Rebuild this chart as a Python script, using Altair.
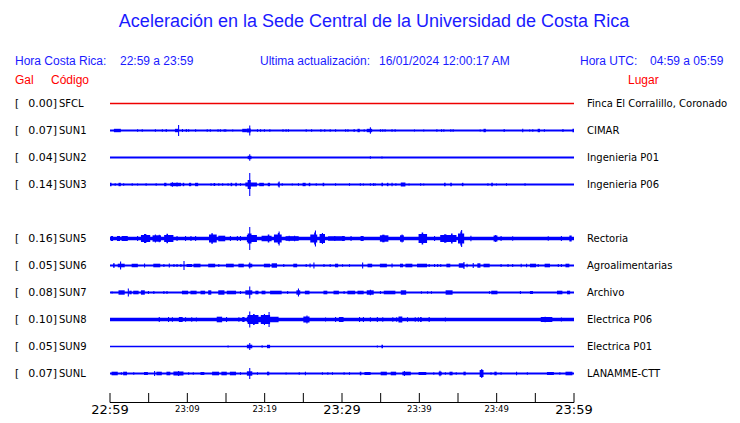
import altair as alt
import pandas as pd

# ---------------- data ----------------
CODES = ["SFCL", "SUN1", "SUN2", "SUN3", "SUN5", "SUN6", "SUN7", "SUN8", "SUN9", "SUNL"]
ROWS = [0, 1, 2, 3, 5, 6, 7, 8, 9, 10]
PEAK_GAL = ["0.00", "0.07", "0.04", "0.14", "0.16", "0.05", "0.08", "0.10", "0.05", "0.07"]
PLACES = ["Finca El Corralillo, Coronado", "CIMAR", "Ingenieria P01", "Ingenieria P06",
          "Rectoria", "Agroalimentarias", "Archivo", "Electrica P06", "Electrica P01",
          "LANAMME-CTT"]

# bursts: [start minute, end minute, half amplitude (px at picture scale)]
EV_SFCL = []
EV_SUN1 = [[0.5,1.4,1.7],[3.5,3.5,1.3],[4.1,4.1,1.3],[5.8,5.8,1.3],[6.7,6.7,1.3],[7.2,7.2,1.5],
           [8.4,8.8,1.7],[8.8,8.8,5.5],[9.3,9.3,1.5],[9.8,9.8,1.5],[10.1,10.1,1.3],[11.0,11.0,1.3],
           [12.5,12.5,1.3],[12.9,12.9,1.3],[13.9,13.9,1.3],[14.2,14.2,1.3],[14.7,14.7,1.3],
           [14.9,14.9,1.3],[15.8,15.8,1.0],[17.1,17.7,1.7],[17.7,18.2,2.0],[18.0,18.0,5.0],
           [19.0,19.0,1.3],[19.4,19.4,1.3],[19.9,19.9,1.3],[20.6,20.6,1.3],[22.3,22.3,1.3],
           [22.7,22.7,1.3],[23.0,23.0,1.3],[25.3,25.3,1.3],[26.0,26.0,1.3],[27.2,27.2,1.3],
           [27.7,27.7,1.3],[28.4,28.4,1.3],[29.1,29.1,1.3],[30.4,30.4,1.3],[30.7,30.7,1.3],
           [31.5,31.5,1.5],[32.0,32.3,1.7],[32.8,32.8,1.3],[33.2,33.9,1.7],[33.6,33.6,3.2],
           [34.9,34.9,1.3],[35.2,35.2,1.3],[35.5,35.5,1.3],[36.4,36.4,1.3],[36.8,36.8,1.3],
           [39.3,39.3,1.0],[40.5,40.5,1.0],[42.2,42.2,1.3],[42.8,42.8,1.3],[43.1,43.1,1.3],
           [44.0,44.0,1.3],[44.3,44.3,1.3],[47.8,47.8,1.0],[48.3,48.6,1.7],[50.9,50.9,1.5],
           [53.3,53.3,1.7],[54.2,54.2,1.0],[54.6,54.6,1.3],[55.3,55.6,1.7],[56.1,56.1,1.3],
           [58.5,58.5,1.5],[59.8,60.0,1.7]]
EV_SUN2 = [[17.8,18.3,1.7],[18.0,18.0,3.2],[33.6,33.6,1.3],[35.1,35.1,1.0]]
EV_SUN3 = [[0.0,0.2,1.7],[0.6,0.6,1.3],[1.1,1.4,1.7],[1.7,1.7,1.3],[2.8,2.8,1.3],[3.5,3.5,1.0],
           [4.6,4.6,1.3],[5.9,5.9,1.3],[7.0,7.3,1.7],[7.8,9.2,1.7],[8.0,8.0,2.2],[8.6,8.6,2.0],
           [9.4,9.6,1.7],[10.2,10.5,1.7],[11.0,11.4,1.7],[13.0,13.0,1.3],[13.4,13.6,1.5],
           [14.0,14.0,1.3],[14.5,14.5,1.3],[15.2,15.2,1.3],[15.6,15.8,1.7],[16.2,16.4,1.7],
           [16.8,16.8,1.3],[17.5,19.0,2.0],[17.8,18.2,4.5],[18.0,18.0,11.5],[19.3,19.9,1.7],
           [20.4,20.7,1.7],[21.7,21.9,2.0],[21.8,21.8,3.0],[22.2,22.2,1.3],[23.5,23.5,1.0],
           [24.3,24.3,1.3],[24.9,25.3,1.7],[25.7,25.9,1.7],[26.6,26.6,1.3],[27.5,27.7,1.7],
           [29.1,29.1,1.3],[30.9,30.9,1.3],[32.3,32.3,1.3],[32.7,32.7,1.0],[33.6,33.6,1.3],
           [34.0,34.0,1.3],[34.2,34.2,1.3],[35.1,35.3,1.7],[35.8,36.0,1.7],[36.4,36.4,1.7],
           [36.9,36.9,1.3],[37.6,38.2,2.0],[38.6,38.6,1.0],[40.1,40.1,1.3],[40.5,40.5,1.0],
           [43.2,43.4,1.7],[44.0,44.2,1.7],[45.5,45.7,1.7],[48.8,48.8,1.3],[49.3,49.5,1.7],
           [49.9,49.9,1.0],[51.2,51.2,1.3],[53.6,53.6,1.3]]
EV_SUN5 = [[0.1,0.4,2.5],[0.9,1.3,2.5],[1.5,2.3,2.5],[3.5,3.5,2.5],[4.0,5.2,3.5],[4.4,4.7,4.5],
           [5.5,6.6,3.2],[5.8,5.8,4.0],[6.3,6.3,3.8],[7.0,8.2,3.5],[7.3,7.5,4.8],[8.6,8.6,2.5],
           [9.7,9.7,2.5],[10.4,10.4,2.5],[11.0,11.0,2.5],[12.8,13.8,4.0],[13.1,13.3,5.2],
           [14.0,14.9,2.8],[15.5,15.5,2.5],[16.4,16.4,2.5],[16.8,16.8,2.5],[17.7,19.0,3.5],
           [17.8,18.3,5.0],[18.0,18.0,11.5],[19.6,20.9,2.8],[20.4,20.6,4.0],[21.2,22.2,4.0],
           [21.7,21.9,5.5],[21.8,21.8,7.0],[22.7,24.4,2.3],[23.1,23.1,2.8],[23.8,23.8,2.8],
           [25.9,26.8,4.0],[26.4,26.6,6.0],[26.5,26.5,8.0],[27.1,27.8,4.5],[27.4,27.4,5.5],
           [28.2,30.4,2.2],[29.0,29.0,2.6],[30.0,30.3,2.5],[31.1,31.1,2.5],[32.4,32.8,2.5],
           [34.9,36.0,3.2],[35.2,35.5,3.8],[37.5,38.0,3.2],[37.7,37.7,4.0],[39.9,41.0,4.5],
           [40.3,40.5,6.0],[41.9,41.9,2.5],[42.7,44.8,3.5],[43.2,43.5,4.2],[44.1,44.3,5.0],
           [45.0,45.8,5.0],[45.3,45.5,7.0],[45.4,45.4,8.5],[46.6,46.6,2.8],[49.6,50.1,3.0],
           [49.8,49.8,3.5],[50.5,50.5,2.5],[52.0,52.0,2.2],[56.6,56.6,2.2],[58.3,58.3,2.5],
           [59.4,59.7,3.0]]
EV_SUN6 = [[0.4,0.6,2.2],[1.0,1.9,1.8],[1.3,1.3,4.0],[2.8,3.6,1.8],[4.4,4.4,2.0],[5.6,6.5,1.8],
           [6.9,6.9,1.5],[7.6,7.6,2.0],[8.2,8.2,1.5],[8.6,8.6,1.5],[9.1,9.1,1.5],[9.5,9.5,4.5],
           [9.9,10.6,1.5],[10.8,11.7,1.8],[12.7,13.6,1.8],[14.0,14.0,1.5],[15.0,16.0,1.8],
           [16.6,17.3,1.8],[17.9,18.4,1.8],[18.0,18.0,3.0],[19.9,20.7,1.8],[20.9,21.6,2.2],
           [22.4,22.4,1.5],[23.7,24.2,1.8],[25.3,25.3,1.5],[25.8,25.8,2.0],[26.3,26.3,3.0],
           [27.6,27.6,1.5],[28.4,28.4,1.5],[29.1,29.5,1.8],[30.0,30.0,1.3],[30.9,30.9,1.3],
           [32.6,32.6,3.0],[33.3,33.9,1.8],[34.9,35.8,1.8],[36.4,36.4,2.0],[37.5,37.9,1.8],
           [38.2,39.1,1.8],[39.7,41.0,1.8],[41.2,41.2,1.5],[41.9,41.9,1.5],[42.3,42.3,1.5],
           [42.7,42.7,1.5],[43.5,44.0,1.8],[45.1,45.8,2.2],[45.7,45.7,3.5],[46.1,46.1,1.8],
           [46.9,46.9,2.5],[47.5,47.9,2.2],[48.3,49.1,1.8],[50.5,50.5,1.5],[51.4,51.4,1.5],
           [52.0,52.0,1.5],[53.1,53.1,1.8],[53.8,53.8,1.8],[54.3,55.1,1.8],[55.3,55.3,1.5],
           [56.2,56.9,1.8],[57.9,57.9,1.5],[58.3,58.3,1.5],[58.9,59.4,1.8]]
EV_SUN7 = [[0.2,0.2,1.0],[1.1,1.9,2.2],[2.3,2.3,4.0],[2.5,2.8,1.8],[3.0,3.7,1.8],[4.0,4.5,2.2],
           [4.9,4.9,1.5],[5.6,5.6,1.5],[6.9,6.9,1.5],[7.3,7.3,1.5],[9.3,10.1,1.8],[10.4,11.2,1.8],
           [11.7,12.3,1.8],[12.7,13.1,2.2],[14.0,14.8,2.2],[15.1,16.3,1.8],[16.8,16.8,1.5],
           [17.5,18.4,2.2],[18.0,18.0,6.0],[18.8,19.2,1.8],[19.6,20.1,1.8],[20.7,22.2,1.8],
           [22.9,22.9,1.5],[24.1,24.6,2.2],[24.3,24.3,4.0],[25.2,25.8,1.8],[27.6,28.1,1.8],
           [28.9,29.6,1.8],[30.2,30.2,1.5],[30.7,31.7,1.8],[32.0,32.8,1.8],[33.2,34.1,2.2],
           [33.6,33.6,2.8],[34.9,34.9,1.5],[35.4,36.9,1.8],[37.6,38.3,2.2],[40.2,40.2,1.3],
           [41.0,41.0,1.3],[41.5,41.5,1.3],[43.4,44.3,2.2],[49.0,49.0,1.3],[49.3,50.1,1.8],
           [53.0,53.0,1.5],[54.3,54.7,1.5],[57.8,58.5,1.8],[59.1,59.5,1.8]]
EV_SUN8 = [[6.3,6.3,2.5],[7.5,7.5,2.5],[8.0,8.0,2.3],[8.9,9.4,2.5],[9.7,9.7,2.3],[10.5,10.5,2.3],
           [11.1,11.1,2.0],[13.8,14.5,2.8],[15.0,15.0,2.5],[16.6,16.6,2.3],[17.1,17.4,2.5],
           [17.7,21.8,2.8],[17.8,19.2,4.5],[18.0,18.0,8.0],[18.5,18.7,5.5],[19.5,20.7,4.5],
           [20.5,20.5,7.5],[19.9,19.9,5.5],[25.0,25.8,3.0],[25.4,25.4,4.0],[27.8,27.8,2.0],
           [29.1,29.1,2.5],[29.6,30.2,2.5],[32.2,32.2,2.5],[32.7,32.7,2.5],[33.6,33.6,2.3],
           [34.5,34.5,2.5],[35.2,35.2,2.3],[36.5,36.5,2.3],[37.0,37.0,2.3],[37.3,37.8,3.0],
           [38.4,38.4,2.3],[39.4,39.4,2.3],[39.8,39.8,2.3],[40.1,40.3,2.5],[41.2,41.2,2.5],
           [43.3,43.3,2.0],[55.7,57.2,2.5],[56.2,56.2,2.8],[58.3,58.3,2.0]]
EV_SUN9 = [[15.2,15.2,1.0],[17.7,18.4,1.8],[18.0,18.0,3.5],[19.6,19.6,1.3],[20.3,20.7,1.7],
           [34.5,34.5,1.0],[35.1,35.3,1.7]]
EV_SUNL = [[0.2,1.0,1.8],[1.4,1.4,1.3],[1.7,2.2,1.8],[3.0,3.0,1.3],[4.4,4.9,1.5],[5.7,5.7,2.5],
           [6.0,6.7,1.8],[7.3,7.8,1.8],[8.2,9.5,2.0],[8.8,8.8,2.5],[10.1,10.1,1.3],[10.7,10.7,1.3],
           [11.7,12.2,1.5],[13.2,14.1,1.8],[14.4,15.1,1.8],[15.5,16.3,1.8],[16.8,16.8,1.3],
           [17.7,18.4,2.2],[18.0,18.0,5.5],[19.0,19.0,1.3],[20.3,20.6,1.8],[22.7,22.7,1.0],
           [24.4,24.4,1.3],[25.2,25.2,1.8],[27.4,27.4,1.3],[28.1,28.1,1.3],[28.7,28.7,1.3],
           [30.2,30.2,1.3],[30.9,30.9,1.3],[32.3,32.5,1.8],[32.9,33.7,1.5],[35.0,35.8,1.8],
           [36.3,37.0,1.8],[37.8,38.9,1.8],[38.0,38.0,2.5],[39.9,40.9,1.5],[41.8,41.8,1.3],
           [42.5,42.9,1.8],[42.6,42.6,2.8],[43.3,43.3,1.3],[43.9,44.3,1.8],[44.7,44.7,1.3],
           [45.7,46.0,1.8],[47.8,48.3,3.5],[48.0,48.0,4.5],[49.2,49.2,1.3],[49.7,50.0,1.8],
           [50.5,50.5,1.3],[52.5,52.5,1.8],[53.9,53.9,1.3],[56.5,57.4,1.5],[58.1,58.1,1.3],
           [58.9,59.8,1.8]]
EVENTS = [EV_SFCL, EV_SUN1, EV_SUN2, EV_SUN3, EV_SUN5, EV_SUN6, EV_SUN7, EV_SUN8, EV_SUN9, EV_SUNL]

TICK_MIN = list(range(0, 61, 5))
LABEL_MIN = [0, 10, 20, 30, 40, 50, 60]
LABEL_TXT = ["22:59", "23:09", "23:19", "23:29", "23:39", "23:49", "23:59"]
LABEL_BIG = [True, False, False, True, False, False, True]

TITLE = "Aceleración en la Sede Central de la Universidad de Costa Rica"
HEADER_TXT = ["Hora Costa Rica:", "22:59 a 23:59", "Ultima actualización:",
              "16/01/2024 12:00:17 AM", "Hora UTC:", "04:59 a 05:59"]
RED_TXT = ["Gal", "Código", "Lugar"]

# ---------------- styles ----------------
BLUE = "#0000ff"
RED = "#ee0000"
ROW_PX = 27.0
BASE_W = [1.5, 1.8, 1.8, 1.8, 3.7, 1.8, 1.8, 3.7, 1.5, 1.8]
HEADER_X = [7, 112, 252, 371, 572, 642]
RED_X = [7, 43, 620]

xs = alt.Scale(domain=[0, 60], range=[102, 566])
ys = alt.Scale(domain=[0, 10], range=[95.5, 365.5])

# ---------------- tables ----------------
base_df = pd.DataFrame({"code": CODES, "row": ROWS, "w": BASE_W, "t0": 0, "t1": 60})
ev_rows = []
for code, row, ev in zip(CODES, ROWS, EVENTS):
    for s, e, a in ev:
        ev_rows.append({"code": code, "t0": s, "t1": max(e, s + 0.14),
                        "y0": row - a / ROW_PX, "y1": row + a / ROW_PX})
ev_df = pd.DataFrame(ev_rows)
lab_df = pd.DataFrame({"row": ROWS, "code": CODES, "gal": [g + "]" for g in PEAK_GAL],
                       "place": PLACES, "br": "["})
tick_df = pd.DataFrame({"t": TICK_MIN})
tl_df = pd.DataFrame({"t": LABEL_MIN, "txt": LABEL_TXT, "big": LABEL_BIG})

def base_layer(filt, color):
    return alt.Chart(base_df).transform_filter(filt).mark_rule(color=color).encode(
        x=alt.X("t0:Q", scale=xs, axis=None), x2="t1:Q",
        y=alt.Y("row:Q", scale=ys, axis=None),
        strokeWidth=alt.StrokeWidth("w:Q", scale=None),
    )

base_red = base_layer("datum.code == 'SFCL'", RED)
base_blue = base_layer("datum.code != 'SFCL'", BLUE)
bursts = alt.Chart(ev_df).mark_rect(color=BLUE).encode(
    x=alt.X("t0:Q", scale=xs, axis=None), x2="t1:Q",
    y=alt.Y("y0:Q", scale=ys, axis=None), y2="y1:Q",
)

FONT_L = "DejaVu Sans"
def row_text(field, xpix, align, size=10.5):
    return alt.Chart(lab_df).mark_text(font=FONT_L, fontSize=size, align=align,
                                       baseline="middle", color="black").encode(
        x=alt.value(xpix), y=alt.Y("row:Q", scale=ys, axis=None), text=f"{field}:N")

br = row_text("br", 7, "left")
gal = row_text("gal", 49, "right", 11)
code = row_text("code", 51, "left", 10)
place = row_text("place", 579, "left", 10)

AXIS_Y = 394.5
axis_line = alt.Chart(pd.DataFrame({"a": [0], "b": [60]})).mark_rule(
    color="black", strokeWidth=1).encode(
    x=alt.X("a:Q", scale=xs, axis=None), x2="b:Q", y=alt.value(AXIS_Y))
ticks = alt.Chart(tick_df).mark_rule(color="black", strokeWidth=1).encode(
    x=alt.X("t:Q", scale=xs, axis=None), y=alt.value(AXIS_Y - 9.5), y2=alt.value(AXIS_Y))
tl_big = alt.Chart(tl_df).transform_filter("datum.big").mark_text(
    font=FONT_L, fontSize=13, baseline="alphabetic", color="black").encode(
    x=alt.X("t:Q", scale=xs, axis=None), y=alt.value(405.5), text="txt:N")
tl_small = alt.Chart(tl_df).transform_filter("!datum.big").mark_text(
    font=FONT_L, fontSize=8.5, baseline="alphabetic", color="black").encode(
    x=alt.X("t:Q", scale=xs, axis=None), y=alt.value(403.5), text="txt:N")

HFONT = "Liberation Sans"
title_t = alt.Chart(pd.DataFrame({"txt": [TITLE]})).mark_text(
    font=HFONT, fontSize=18, align="center", baseline="middle", color="#1a1aff").encode(
    x=alt.value(366), y=alt.value(14), text="txt:N")
line2 = alt.Chart(pd.DataFrame({"txt": HEADER_TXT, "x": HEADER_X})).mark_text(
    font=HFONT, fontSize=12, align="left", baseline="middle", color="#1a1aff").encode(
    x=alt.X("x:Q", scale=None), y=alt.value(53), text="txt:N")
line3 = alt.Chart(pd.DataFrame({"txt": RED_TXT, "x": RED_X})).mark_text(
    font=HFONT, fontSize=12, align="left", baseline="middle", color="#ff0000").encode(
    x=alt.X("x:Q", scale=None), y=alt.value(72), text="txt:N")

chart = alt.layer(base_red, base_blue, bursts, br, gal, code, place, axis_line, ticks,
                  tl_big, tl_small, title_t, line2, line3).properties(
    width=724, height=407, padding=0, autosize=alt.AutoSizeParams(type="none"),
    background="white",
).configure_view(strokeWidth=0)

chart.save("out.html", embed_options={"renderer": "svg", "actions": False})
